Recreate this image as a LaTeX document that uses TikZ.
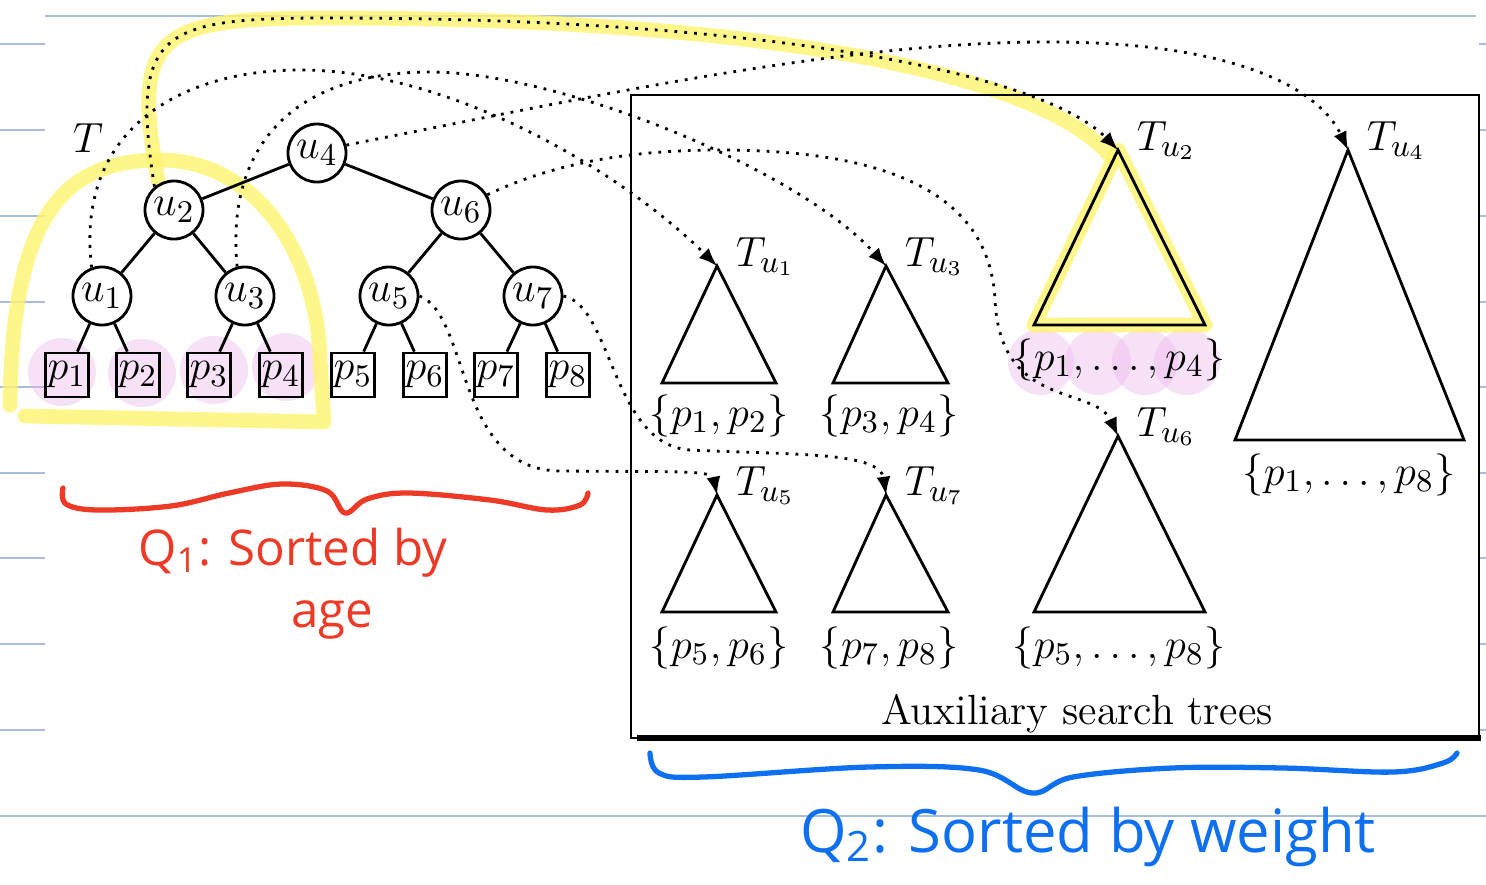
\documentclass[tikz,border=0pt,12pt]{standalone}
\usepackage{fontspec}
\newfontfamily\handfont{Open Sans}
\usetikzlibrary{positioning}
\definecolor{noteline}{RGB}{168,188,222}
\definecolor{hlyellow}{RGB}{255,244,110}
\definecolor{hlpink}{RGB}{236,180,236}
\definecolor{redink}{RGB}{236,58,38}
\definecolor{blueink}{RGB}{14,112,238}
\tikzset{
  mathlbl/.style={font=\fontsize{13}{15}\selectfont},
  treenode/.style={draw,circle,thick,minimum size=5.8mm,inner sep=0pt,mathlbl},
  leaf/.style={draw,thick,minimum width=4.3mm,minimum height=4.4mm,inner sep=0.3pt,mathlbl},
  auxtree/.style={draw,thick,line join=miter},
  ptr/.style={draw,dotted,line width=0.8pt,->,>=latex},
  marker/.style={hlyellow,line width=4.2pt,opacity=0.8,line cap=round,line join=round},
  dab/.style={fill=hlpink,opacity=0.4},
  ink/.style={line width=1.5pt,line cap=round,line join=round}
}
\begin{document}
\begin{tikzpicture}[x=0.01cm,y=-0.01cm]
        \useasboundingbox (0,0) rectangle (1486,884);

        % notebook paper
        \foreach \y in {44,130,216,302,387,473,558,644,730} {
            \draw[noteline,line width=0.5pt] (0,\y) -- (45,\y);
            \draw[noteline,line width=0.5pt] (1479,\y) -- (1486,\y);
        }
        \draw[noteline,line width=0.5pt] (45,16) -- (1476,16);
        \draw[noteline,line width=0.5pt] (0,816) -- (1486,816);

        % highlighter
        \foreach \x/\y in {62/372,142/373,214/370,286/367}
            \fill[dab] (\x,\y) circle (3.4mm);
        \foreach \x in {1041,1098,1145,1187}
            \fill[dab] (\x,362) circle (3.3mm);
        \draw[marker] (10,405) .. controls (12,220) and (60,160) .. (160,160)
            .. controls (260,160) and (318,260) .. (320,360) -- (324,422) -- (25,416);
        \draw[marker] (158,180) .. controls (130,30) and (160,18) .. (330,18)
            .. controls (750,18) and (1040,70) .. (1112,158);
        \draw[marker] (1118,150) -- (1034,325) -- (1205,325) -- cycle;

        % tree T
        \node[mathlbl] at (88,138) {$T$};
        \node[treenode] (u4) at (317,153) {$u_4$};
        \node[treenode] (u2) at (174,210) {$u_2$};
        \node[treenode] (u6) at (461,210) {$u_6$};
        \node[treenode] (u1) at (102,296) {$u_1$};
        \node[treenode] (u3) at (245,296) {$u_3$};
        \node[treenode] (u5) at (389,296) {$u_5$};
        \node[treenode] (u7) at (533,296) {$u_7$};
        \foreach \i/\x in {1/67,2/138,3/209,4/281,5/353,6/425,7/496,8/568}
            \node[leaf] (p\i) at (\x,375) {$p_{\i}$};

        \path[draw,thick] (u4) -- (u2);
        \path[draw,thick] (u4) -- (u6);
        \path[draw,thick] (u2) -- (u1);
        \path[draw,thick] (u2) -- (u3);
        \path[draw,thick] (u6) -- (u5);
        \path[draw,thick] (u6) -- (u7);
        \path[draw,thick] (u1) -- (p1);
        \path[draw,thick] (u1) -- (p2);
        \path[draw,thick] (u3) -- (p3);
        \path[draw,thick] (u3) -- (p4);
        \path[draw,thick] (u5) -- (p5);
        \path[draw,thick] (u5) -- (p6);
        \path[draw,thick] (u7) -- (p7);
        \path[draw,thick] (u7) -- (p8);

        % auxiliary search trees
        \draw[thick] (631,95) rectangle (1479,738);
        \draw[line width=1.5pt] (637,738) -- (1481,738);
        \node at (1077,714) {Auxiliary search trees};

        \coordinate (t1) at (717,266);
        \coordinate (t3) at (886,266);
        \coordinate (t2) at (1118,150);
        \coordinate (t4) at (1348,150);
        \coordinate (t5) at (717,495);
        \coordinate (t7) at (886,495);
        \coordinate (t6) at (1118,436);

        \path[auxtree] (t1) -- ++(-55,117) -- ++(114,0) -- cycle;
        \path[auxtree] (t3) -- ++(-53,117) -- ++(115,0) -- cycle;
        \path[auxtree] (t5) -- ++(-55,117) -- ++(114,0) -- cycle;
        \path[auxtree] (t7) -- ++(-53,117) -- ++(115,0) -- cycle;
        \path[auxtree] (t2) -- ++(-84,175) -- ++(171,0) -- cycle;
        \path[auxtree] (t6) -- ++(-84,176) -- ++(171,0) -- cycle;
        \path[auxtree] (t4) -- ++(-113,290) -- ++(229,0) -- cycle;

        \foreach \t/\u in {t1/1,t3/3,t5/5,t7/7,t2/2,t6/6,t4/4}
            \node[mathlbl,anchor=base west] at ([xshift=0.4mm]\t) {$T_{u_{\u}}$};

        \node[mathlbl] at (719,416) {$\{p_1,p_2\}$};
        \node[mathlbl] at (889,416) {$\{p_3,p_4\}$};
        \node[mathlbl] at (719,648) {$\{p_5,p_6\}$};
        \node[mathlbl] at (889,648) {$\{p_7,p_8\}$};
        \node[mathlbl] at (1119,360) {$\{p_1,\ldots,p_4\}$};
        \node[mathlbl] at (1119,648) {$\{p_5,\ldots,p_8\}$};
        \node[mathlbl] at (1349,475) {$\{p_1,\ldots,p_8\}$};

        % pointers from T to its auxiliary trees
        \path[ptr] (u1.110) .. controls (75,130) and (180,70) .. (300,70)
            .. controls (450,70) and (620,170) .. (t1);
        \path[ptr] (u3.105) .. controls (225,140) and (300,72) .. (430,72)
            .. controls (560,72) and (800,170) .. (t3);
        \path[ptr] (u2.130) .. controls (130,30) and (160,18) .. (330,18)
            .. controls (750,18) and (1040,70) .. (t2);
        \path[ptr] (u4.15) .. controls (600,95) and (850,40) .. (1060,42)
            .. controls (1240,44) and (1320,90) .. (t4);
        \path[ptr] (u6.30) .. controls (560,160) and (640,150) .. (720,150)
            .. controls (900,150) and (990,200) .. (995,300)
            .. controls (1000,410) and (1095,385) .. (t6);
        \path[ptr] (u5.east) .. controls (470,315) and (455,470) .. (560,471)
            .. controls (680,472) and (712,470) .. (t5);
        \path[ptr] (u7.east) .. controls (612,305) and (612,445) .. (690,450)
            .. controls (800,455) and (880,452) .. (t7);

        % handwritten notes
        \draw[redink,ink] plot[smooth,tension=0.6] coordinates {(63,488) (66,504) (98,510)
            (171,506) (229,493) (282,484) (327,491) (345,513) (367,499) (408,493)
            (490,500) (547,510) (580,505) (588,493)};
        \node[redink,anchor=base] at (293,565) {\handfont\fontsize{14}{16}\selectfont Q\textsubscript{1}: Sorted by};
        \node[redink,anchor=base] at (332,627) {\handfont\fontsize{14}{16}\selectfont age};
        \draw[blueink,ink] plot[smooth,tension=0.6] coordinates {(650,753) (659,773) (703,777)
            (869,767) (979,770) (1032,793) (1073,777) (1172,768) (1283,768)
            (1393,772) (1443,763) (1457,753)};
        \node[blueink,anchor=base] at (1088,852) {\handfont\fontsize{17}{20}\selectfont Q\textsubscript{2}: Sorted by weight};
\end{tikzpicture}
\end{document}
